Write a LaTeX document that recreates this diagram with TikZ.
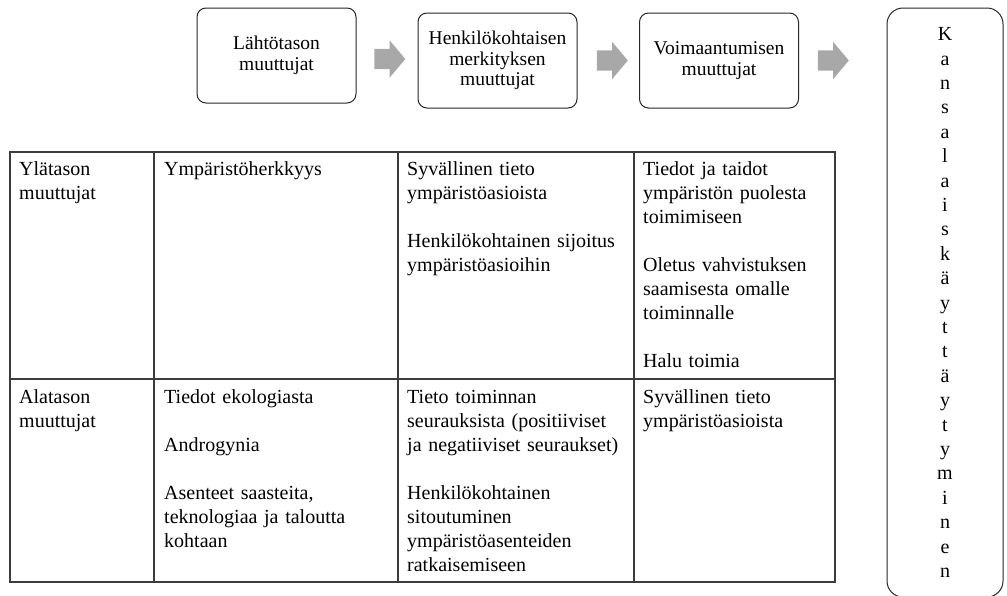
\documentclass[tikz,border=0pt]{standalone}
\usepackage{fontspec}
\setmainfont{Liberation Serif}
\usepackage{tikz}
\usetikzlibrary{shapes.arrows}

\definecolor{arrowgray}{HTML}{A8A8A8}
\definecolor{gridgray}{HTML}{3C3C3C}

\tikzset{
  stagebox/.style={draw=black!85, line width=1pt, rounded corners=9pt,
    minimum width=159pt, minimum height=95pt, inner sep=0pt, align=center,
    font=\fontsize{19.5}{20.5}\selectfont},
  endbox/.style={draw=black!85, line width=1pt, rounded corners=16pt,
    minimum width=116pt, minimum height=589pt, inner sep=0pt, align=center,
    font=\fontsize{20}{24.4}\selectfont},
  flowarrow/.style={single arrow, fill=arrowgray, draw=none, inner xsep=0pt,
    inner ysep=10pt, minimum height=31pt, single arrow head extend=8.5pt,
    single arrow tip angle=100},
  gridline/.style={draw=gridgray, line width=1.1pt},
  cell/.style={anchor=base west, inner sep=0pt, align=left,
    font=\fontsize{20}{24}\selectfont},
}

\begin{document}
\begin{tikzpicture}[x=1pt,y=-1pt]
\useasboundingbox (0,0) rectangle (1007,595);
% stages
\node[stagebox] (lahto) at (276.5,55.5) {Lähtötason\\muuttujat};
\node[stagebox] (merkitys) at (497.5,60.5) {Henkilökohtaisen\\merkityksen\\muuttujat};
\node[stagebox] (voima) at (719,60.5) {Voimaantumisen\\muuttujat};
\node[endbox] (kansalais) at (945,302.5)
  {K\\a\\n\\s\\a\\l\\a\\i\\s\\k\\ä\\y\\t\\t\\ä\\y\\t\\y\\m\\i\\n\\e\\n};
%
\node[flowarrow] (nuoli1) at (385.5,59) {};
\node[flowarrow] (nuoli2) at (608,60.5) {};
\node[flowarrow] (nuoli3) at (829,60.5) {};
% table
\draw[gridline] (10,152) rectangle (835,582);
\draw[gridline] (10,379) -- (835,379);
\foreach \x in {154,398,634}
  \draw[gridline] (\x,152) -- (\x,582);
% upper row
\node[cell, text width=130pt] (ylataso) at (19,175) {Ylätason\\muuttujat};
\node[cell, text width=230pt] (yherk) at (164,175) {Ympäristöherkkyys};
\node[cell, text width=230pt] (ysyva) at (407,175)
  {Syvällinen tieto\\ympäristöasioista\\[24pt]Henkilökohtainen sijoitus\\ympäristöasioihin};
\node[cell, text width=195pt] (yvoima) at (643,175)
  {Tiedot ja taidot\\ympäristön puolesta\\toimimiseen\\[24pt]Oletus vahvistuksen\\saamisesta omalle\\toiminnalle\\[24pt]Halu toimia};
% lower row
\node[cell, text width=130pt] (alataso) at (19,403) {Alatason\\muuttujat};
\node[cell, text width=230pt] (aeko) at (164,403)
  {Tiedot ekologiasta\\[24pt]Androgynia\\[24pt]Asenteet saasteita,\\teknologiaa ja taloutta\\kohtaan};
\node[cell, text width=230pt] (atieto) at (407,403)
  {Tieto toiminnan\\seurauksista (positiiviset\\ja negatiiviset seuraukset)\\[24pt]Henkilökohtainen\\sitoutuminen\\ympäristöasenteiden\\ratkaisemiseen};
\node[cell, text width=195pt] (asyva) at (643,403)
  {Syvällinen tieto\\ympäristöasioista};
\end{tikzpicture}
\end{document}
